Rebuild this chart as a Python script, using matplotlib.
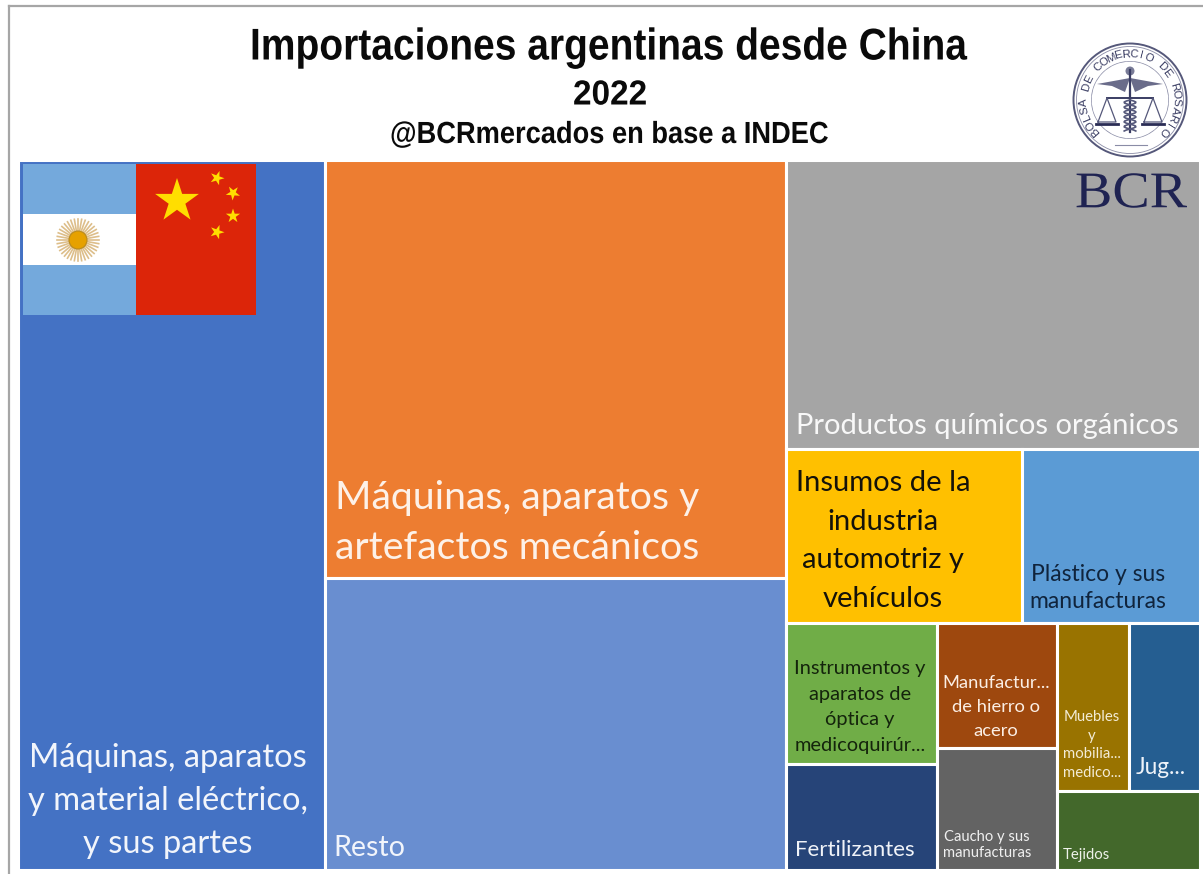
import numpy as np
import matplotlib
matplotlib.use('Agg')
import matplotlib.pyplot as plt
from matplotlib.patches import Rectangle, Circle, Polygon, Wedge
from matplotlib.patheffects import AbstractPathEffect
from matplotlib.transforms import Affine2D

categorias = ['Máquinas eléctricas', 'Máquinas mecánicas', 'Resto', 'Químicos orgánicos',
              'Insumos automotriz', 'Plástico', 'Instrumentos', 'Fertilizantes',
              'Manufacturas hierro', 'Caucho', 'Muebles', 'Juguetes', 'Tejidos']
valores = [25.93, 23.01, 16.06, 14.24, 4.89, 3.71, 2.51, 1.90, 1.78, 1.75, 1.44, 1.42, 1.35]
colores = ['#4472C4', '#ED7D31', '#698ED0', '#A5A5A5', '#FFC000', '#5B9BD5', '#70AD47',
           '#264478', '#9E480E', '#636363', '#997300', '#255E91', '#43682B']

# Estructura del treemap (indices de categorias)
arbol = [0, [1, 2], [3, [4, 5], [[6, 7], [8, 9], [[10, 11], 12]]]]

W, H = 1203, 874
fig = plt.figure(figsize=(W / 100, H / 100), dpi=100, facecolor='white')


# Cambia el ancho del texto en horizontal (no hay fuente narrow instalada)
class Angosto(AbstractPathEffect):
    def __init__(self, sx):
        super().__init__()
        self.sx = sx

    def draw_path(self, renderer, gc, tpath, affine, rgbFace=None):
        renderer.draw_path(gc, tpath, Affine2D().scale(self.sx, 1) + affine, rgbFace)


# Capa en pixeles para el marco
top = fig.add_axes([0, 0, 1, 1])
top.set_xlim(0, W)
top.set_ylim(H, 0)
top.axis('off')
top.plot([9, 9], [874, 6], color='#a6a6a6', lw=1.6)
top.plot([9, 1203], [6, 6], color='#a6a6a6', lw=1.6)

# Treemap
ax = fig.add_axes([18 / W, 1 - 870 / H, 1182 / W, 710 / H], zorder=1)
ax.set_xlim(0, 100)
ax.set_ylim(100, 0)
ax.axis('off')


def suma(nodo):
    if isinstance(nodo, int):
        return valores[nodo]
    return sum(suma(n) for n in nodo)


def dibujar(nodo, x, y, w, h, prof=0):
    if isinstance(nodo, int):
        ax.add_patch(Rectangle((x, y), w, h, facecolor=colores[nodo], edgecolor='white', lw=2.2))
        return
    total = suma(nodo)
    for n in nodo:
        f = suma(n) / total
        if prof % 2 == 0:
            dibujar(n, x, y, w * f, h, prof + 1)
            x += w * f
        else:
            dibujar(n, x, y, w, h * f, prof + 1)
            y += h * f


dibujar(arbol, 0, 0, 100, 100)

deco = fig.add_axes([0, 0, 1, 1], zorder=2)
deco.set_xlim(0, W)
deco.set_ylim(H, 0)
deco.axis('off')
deco.patch.set_alpha(0)


def estrella(cx, cy, r, rot=0, color='#FFDE00'):
    ang = np.deg2rad(np.arange(10) * 36 - 90 + rot)
    rad = np.where(np.arange(10) % 2 == 0, r, r * 0.382)
    deco.add_patch(Polygon(np.c_[cx + rad * np.cos(ang), cy + rad * np.sin(ang)],
                           facecolor=color, edgecolor='none'))


# Bandera argentina
deco.add_patch(Rectangle((23, 164), 113, 151, facecolor='#74A9DC', edgecolor='none'))
deco.add_patch(Rectangle((23, 214), 113, 51, facecolor='white', edgecolor='none'))
for a in np.arange(0, 360, 10):
    t = np.deg2rad(a)
    deco.plot([78, 78 + 21 * np.cos(t)], [240, 240 + 21 * np.sin(t)], color='#DDBE8A', lw=1.2, zorder=1)
deco.add_patch(Circle((78, 240), 9, facecolor='#E6A100', edgecolor='#B98A1E', lw=0.8, zorder=3))

# Bandera china
deco.add_patch(Rectangle((136, 164), 120, 151, facecolor='#DC2509', edgecolor='none', zorder=0.5))
estrella(177, 201, 23)
estrella(217, 178, 7.5, 20)
estrella(233, 193, 7.5, 40)
estrella(233, 216, 7.5, 0)
estrella(217, 232, 7.5, 20)

# Titulos (alineados a la izquierda porque se angostan desde el origen)
titulo = 'Liberation Sans'
deco.text(250, 48, 'Importaciones argentinas desde China', family=titulo, weight='bold',
          fontsize=32, ha='left', va='center', color='#0a0a0a', path_effects=[Angosto(0.877)])
deco.text(573, 95, '2022', family=titulo, weight='bold', fontsize=25, ha='left', va='center',
          color='#0a0a0a', path_effects=[Angosto(0.96)])
deco.text(390, 135, '@BCRmercados en base a INDEC', family=titulo, weight='bold', fontsize=22,
          ha='left', va='center', color='#0a0a0a', path_effects=[Angosto(0.892)])

# Rotulos de los rectangulos
fuente = 'Lato'
rotulos = [
    ('Máquinas, aparatos\ny material eléctrico,\ny sus partes', 168, 801, 23.5, 'center', '#f2f5fb', 1.55),
    ('Máquinas, aparatos y\nartefactos mecánicos', 335, 523, 28.3, 'left', '#fdf1e8', 1.5),
    ('Resto', 333, 848, 20.6, 'left', '#f2f5fb', 1.2),
    ('Productos químicos orgánicos', 796, 426, 21, 'left', '#f8f8f8', 1.2),
    ('Insumos de la\nindustria\nautomotriz y\nvehículos', 883, 541, 21, 'center', '#14120a', 1.6),
    ('Plástico y sus\nmanufacturas', 1098, 588, 16.5, 'center', '#10243c', 1.36),
    ('Instrumentos y\naparatos de\nóptica y\nmedicoquirúr...', 860, 707, 14.4, 'center', '#14240c', 1.62),
    ('Manufactur...\nde hierro o\nacero', 996, 707, 13.2, 'center', '#fbeee4', 1.62),
    ('Muebles\ny\nmobilia...\nmedico...', 1092, 745, 10.7, 'center', '#f3ecd6', 1.415),
    ('Jug...', 1161, 768, 16.3, 'center', '#eef3f9', 1.2),
    ('Fertilizantes', 795, 850, 16, 'left', '#f0f3f8', 1.2),
    ('Caucho y sus\nmanufacturas', 987, 845, 10.6, 'center', '#f0f0f0', 1.25),
    ('Tejidos', 1063, 855, 10.7, 'left', '#eef2ea', 1.2),
]
for txt, x, y, fs, ha, col, ls in rotulos:
    deco.text(x, y, txt, family=fuente, fontsize=fs, ha=ha, va='center', color=col,
              linespacing=ls, multialignment=ha)

# BCR
azul = '#1f2352'
deco.text(1075, 195, 'BCR', family='Liberation Serif', fontsize=37, ha='left', va='center', color=azul,
          path_effects=[Angosto(1.09)])

# Sello de la Bolsa
cx, cy = 1130, 100
tinta = '#3a3d63'
deco.add_patch(Circle((cx, cy), 56.5, facecolor='white', edgecolor='#55587a', lw=1.4))
deco.add_patch(Circle((cx, cy), 53.5, facecolor='none', edgecolor='#8a8ca6', lw=0.6))
deco.add_patch(Wedge((cx, cy), 39, 0, 360, width=0.7, facecolor='#8a8ca6', edgecolor='none'))
leyenda = 'BOLSA DE COMERCIO DE ROSARIO'
angs = np.linspace(222, -42, len(leyenda))
for c, a in zip(leyenda, angs):
    t = np.deg2rad(a)
    deco.text(cx + 46 * np.cos(t), cy - 46 * np.sin(t), c, fontsize=8.2, family='Liberation Sans',
              color=tinta, ha='center', va='center', rotation=a - 90)
# Caduceo, alas y balanza
deco.plot([cx, cx], [70, 132], color=tinta, lw=1.6)
deco.add_patch(Circle((cx, 71), 4.5, facecolor='#7a7c98', edgecolor='none'))
deco.add_patch(Polygon([[cx, 78], [1097, 84], [1112, 86], [1125, 92]], facecolor='#6a6c8a', edgecolor='none'))
deco.add_patch(Polygon([[cx, 78], [1163, 84], [1148, 86], [1135, 92]], facecolor='#6a6c8a', edgecolor='none'))
deco.plot([1107, 1153], [98, 98], color=tinta, lw=1.4)
for px in [1107, 1153]:
    deco.plot([px - 9, px, px + 9, px - 9], [122, 98, 122, 122], color='#55587a', lw=0.9)
    deco.plot([px - 11, px + 11], [124, 124], color='#2a2d55', lw=2)
yy = np.arange(100, 132, 1.0)
deco.plot(cx + 6 * np.sin((yy - 100) * 0.65), yy, color='#55587a', lw=1.2)
deco.plot(cx - 6 * np.sin((yy - 100) * 0.65), yy, color='#55587a', lw=1.2)
deco.plot([1115, 1147], [145, 145], color='#8a8ca6', lw=0.8)

fig.savefig('out.png', dpi=100)
